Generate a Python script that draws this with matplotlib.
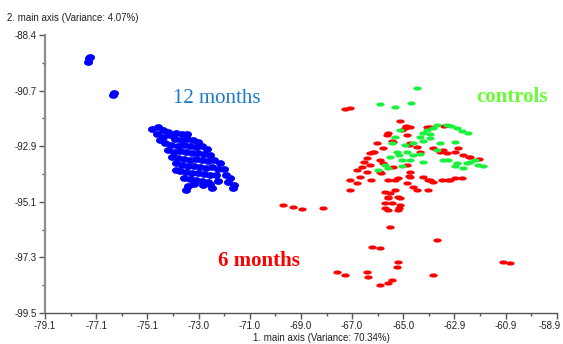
import matplotlib
matplotlib.use("Agg")
import matplotlib.pyplot as plt
import matplotlib.transforms as mtransforms
from matplotlib.path import Path
import numpy as np

# axis ranges and tick labels as printed on the chart
x_range = (-79.1, -58.9)
y_range = (-99.54, -88.44)
x_tick_labels = ["-79.1", "-77.1", "-75.1", "-73.0", "-71.0", "-69.0",
                 "-67.0", "-65.0", "-62.9", "-60.9", "-58.9"]
y_tick_labels = ["-99.5", "-97.3", "-95.1", "-92.9", "-90.7", "-88.4"]

# 12 months group
blue_x = [-77.36, -77.40, -77.32, -76.38, -76.42,
          -74.88, -74.64, -74.45, -74.25, -74.68, -74.45, -74.17, -73.93, -73.70, -73.50,
          -73.97, -73.73, -73.50, -73.26, -73.06, -74.37, -74.13, -73.85, -73.62, -73.38,
          -73.14, -72.91, -72.71, -74.25, -74.01, -73.77, -73.54, -73.30, -73.06, -72.83,
          -72.59, -74.09, -73.85, -73.62, -73.38, -73.14, -72.91, -72.67, -72.43, -72.20,
          -73.93, -73.70, -73.46, -73.22, -72.99, -72.75, -72.51, -72.28, -72.04, -73.77,
          -73.54, -73.30, -73.06, -72.83, -72.59, -72.35, -71.96, -71.80, -73.62, -73.38,
          -73.14, -72.91, -72.67, -72.28, -71.88, -71.64, -73.46, -73.22, -72.87, -72.59,
          -72.51, -73.54, -71.68, -74.56, -73.93]
blue_y = [-89.36, -89.52, -89.32, -90.76, -90.84,
          -92.19, -92.11, -92.23, -92.31, -92.39, -92.51, -92.43, -92.35, -92.39, -92.39,
          -92.59, -92.63, -92.59, -92.63, -92.71, -92.75, -92.83, -92.87, -92.83, -92.87,
          -92.91, -92.87, -92.99, -93.03, -93.11, -93.07, -93.11, -93.15, -93.15, -93.19,
          -93.23, -93.31, -93.35, -93.39, -93.43, -93.39, -93.43, -93.47, -93.43, -93.55,
          -93.55, -93.63, -93.67, -93.67, -93.71, -93.75, -93.71, -93.79, -93.79, -93.87,
          -93.91, -93.95, -93.95, -93.99, -94.03, -94.03, -94.03, -94.15, -94.15, -94.19,
          -94.23, -94.27, -94.31, -94.27, -94.31, -94.43, -94.47, -94.39, -94.43, -94.39,
          -94.55, -94.63, -94.55, -92.63, -93.83]

# 6 months group
red_x = [-67.27, -67.07, -65.10, -64.70, -64.03, -65.57, -65.02, -64.82, -66.00, -65.37,
         -65.77, -66.16, -64.70, -64.42, -64.31, -63.79, -63.40, -62.81, -62.61, -62.33,
         -63.24, -66.40, -65.88, -66.28, -66.59, -66.40, -65.88, -65.37, -64.82, -64.70,
         -64.19, -63.91, -63.44, -62.93, -67.07, -66.67, -65.57, -65.17, -64.82, -64.42,
         -63.99, -67.07, -65.69, -65.57, -65.41, -65.17, -65.10, -64.58, -65.49, -65.69,
         -65.57, -65.10, -65.17, -69.71, -69.32, -68.96, -68.13, -65.49, -63.64, -66.20,
         -65.88, -65.17, -65.21, -61.03, -60.76, -67.58, -67.27, -66.40, -66.36, -63.79,
         -65.88, -65.57, -65.41, -64.90, -65.61, -66.28, -66.79, -65.77, -64.70, -63.79,
         -63.12, -63.52,
         -64.86, -63.91, -63.36, -65.41, -64.74, -66.12, -66.52, -65.85, -65.29, -66.24,
         -66.79, -64.74, -63.99, -63.20, -62.65, -62.93, -62.37, -61.98, -65.29, -65.57,
         -65.13, -65.69]
red_y = [-91.39, -91.35, -91.87, -92.11, -92.11, -92.35, -92.23, -92.43, -92.75, -92.71,
         -92.95, -93.11, -92.75, -92.91, -93.11, -92.95, -93.03, -92.95, -93.23, -93.31,
         -93.15, -93.35, -93.43, -93.63, -93.71, -93.91, -93.91, -93.71, -93.63, -93.91,
         -94.11, -94.23, -94.23, -94.15, -94.23, -94.11, -94.23, -94.15, -94.35, -94.63,
         -94.63, -94.63, -94.71, -94.95, -95.15, -94.91, -95.23, -94.51, -94.75, -95.15,
         -95.43, -94.95, -95.43, -95.23, -95.31, -95.39, -95.35, -96.10, -96.62, -96.90,
         -96.94, -97.50, -97.70, -97.50, -97.54, -97.90, -98.02, -97.90, -98.10, -98.02,
         -98.42, -98.34, -98.22, -92.15, -92.43, -93.15, -93.83, -93.55, -94.11, -94.31,
         -94.23, -93.11,
         -92.07, -92.11, -92.07, -92.67, -92.83, -93.11, -93.51, -93.95, -94.23, -94.23,
         -94.35, -94.07, -94.23, -94.23, -94.15, -93.11, -93.31, -93.39, -94.63, -94.91,
         -95.35, -95.35]

# controls
green_x = [-64.42, -65.88, -65.29, -64.66, -63.64, -63.24, -62.85, -62.41, -62.93, -64.03,
           -64.31, -64.58, -64.82, -65.21, -65.29, -65.41, -65.49, -65.69, -65.96, -65.02,
           -64.70, -64.19, -63.64, -63.52, -63.20, -62.85, -62.33, -62.02, -62.45, -63.91,
           -62.13, -62.61, -63.40, -63.79, -64.19, -65.10, -64.90,
           -63.08, -62.65, -63.91, -64.19, -64.58, -65.13, -65.57, -65.02, -64.31, -62.93,
           -61.82]
green_y = [-90.56, -91.19, -91.31, -91.15, -92.03, -92.03, -92.15, -92.35, -92.71, -92.23,
           -92.51, -92.75, -93.11, -93.11, -92.51, -92.75, -93.31, -93.63, -93.83, -93.43,
           -93.43, -93.51, -93.03, -92.75, -93.43, -93.55, -93.51, -93.63, -93.55, -92.55,
           -93.43, -93.75, -93.43, -92.15, -92.35, -92.23, -92.83,
           -92.07, -92.27, -92.39, -92.67, -93.23, -93.23, -93.75, -93.67, -93.19, -93.67,
           -93.67]

# flat ellipses used as point markers
t = np.linspace(0, 2 * np.pi, 40)
dash = Path(np.column_stack([np.cos(t), 0.5 * np.sin(t)]))
blob = Path(np.column_stack([np.cos(t), 0.75 * np.sin(t)]))

fig = plt.figure(figsize=(5.63, 3.44), dpi=100)
ax = fig.add_axes([0.080, 0.090, 0.909, 0.808])

ax.plot(red_x, red_y, linestyle="none", marker=dash, ms=6, color="#ff0000", mec="none")
ax.plot(green_x, green_y, linestyle="none", marker=dash, ms=6, color="#19f23c", mec="none")
ax.plot(blue_x, blue_y, linestyle="none", marker=blob, ms=6.5, color="#0000ff", mec="none")

ax.text(-74.05, -91.15, "12 months", family="Liberation Serif", fontsize=15,
        color="#1a7acc", va="baseline")
ax.text(-72.28, -97.66, "6 months", family="Liberation Serif", fontsize=15,
        fontweight="bold", color="#ff0000", va="baseline")
ax.text(-62.06, -91.11, "controls", family="Liberation Serif", fontsize=15,
        fontweight="bold", color="#66ff33", va="baseline")

ax.set_xlim(*x_range)
ax.set_ylim(*y_range)
xt = np.linspace(x_range[0], x_range[1], len(x_tick_labels))
yt = np.linspace(y_range[0], y_range[1], len(y_tick_labels))
ax.set_xticks(xt)
ax.set_xticklabels(x_tick_labels)
ax.set_yticks(yt)
ax.set_yticklabels(y_tick_labels)
ax.set_xticks((xt[:-1] + xt[1:]) / 2, minor=True)
ax.set_yticks((yt[:-1] + yt[1:]) / 2, minor=True)

for s in ("top", "right"):
    ax.spines[s].set_visible(False)
ax.spines["left"].set_color("#8c8c8c")
ax.spines["left"].set_linewidth(1.6)
ax.spines["bottom"].set_color("#555555")
ax.spines["bottom"].set_linewidth(1.0)
ax.tick_params(which="major", length=4, width=1, color="#555555", labelsize=7,
               labelcolor="#222222", pad=2, labelfontfamily="Liberation Sans")
ax.tick_params(which="minor", length=2, width=1, color="#555555")

# last x label is pulled in so it stays inside the image
last = ax.get_xticklabels()[-1]
last.set_transform(last.get_transform() +
                   mtransforms.ScaledTranslation(-7 / 100, 0, fig.dpi_scale_trans))

fig.text(7 / 563, 1 - 18 / 344, "2. main axis (Variance: 4.07%)", fontsize=7,
         family="Liberation Sans", color="#222222", va="center", ha="left")
fig.text(321 / 563, 1 - 338 / 344, "1. main axis (Variance: 70.34%)", fontsize=7,
         family="Liberation Sans", color="#222222", va="center", ha="center")

fig.savefig("out.png", dpi=100)
